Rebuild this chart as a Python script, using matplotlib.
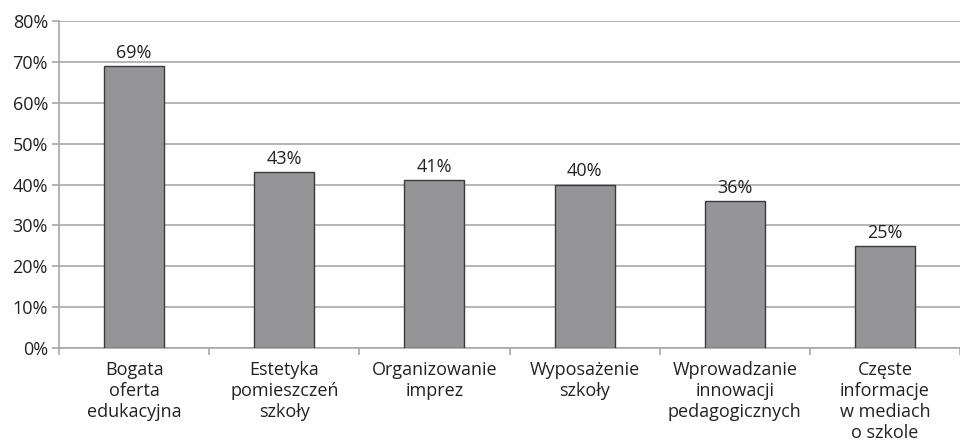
import matplotlib
matplotlib.use('Agg')
import matplotlib.pyplot as plt
import numpy as np

categories = [
    "Bogata\noferta\nedukacyjna",
    "Estetyka\npomieszczeń\nszkoły",
    "Organizowanie\nimprez",
    "Wyposażenie\nszkoły",
    "Wprowadzanie\ninnowacji\npedagogicznych",
    "Częste\ninformacje\nw mediach\no szkole",
]
values = [69, 43, 41, 40, 36, 25]
y_ticks = [0, 10, 20, 30, 40, 50, 60, 70, 80]

plt.rcParams['font.family'] = ['Open Sans', 'DejaVu Sans']

fig = plt.figure(figsize=(9.6, 4.48), dpi=100, facecolor="white")
ax = fig.add_axes([0.0615, 0.223, 0.9385, 0.730])

x = np.arange(len(categories))
ax.bar(x, values, width=0.4, color="#959598", edgecolor="#3a3a3a", linewidth=1.0, zorder=3)

for xi, v in zip(x, values):
    ax.text(xi, v + 1.0, f"{v}%", ha="center", va="bottom", fontsize=13, color="#222222")

ax.set_xlim(-0.5, len(categories) - 0.5)
ax.set_ylim(0, 80)
ax.set_yticks(y_ticks)
ax.set_yticklabels([f"{t}%" for t in y_ticks], fontsize=13, color="#222222")
ax.grid(axis="y", color="#a8a8a8", linewidth=1.2, zorder=0)

ax.set_xticks(x)
ax.set_xticklabels(categories, fontsize=13, color="#222222", linespacing=1.22)
ax.tick_params(axis="x", which="major", length=0, pad=9)
ax.set_xticks(np.arange(len(categories) + 1) - 0.5, minor=True)
ax.tick_params(axis="x", which="minor", length=5, color="#a8a8a8", width=1.2)
ax.tick_params(axis="y", length=5, color="#a8a8a8", width=1.2, pad=3)

for side in ["top", "right"]:
    ax.spines[side].set_visible(False)
for side in ["left", "bottom"]:
    ax.spines[side].set_color("#a8a8a8")
    ax.spines[side].set_linewidth(1.2)

fig.savefig("out.png", dpi=100, facecolor="white")
